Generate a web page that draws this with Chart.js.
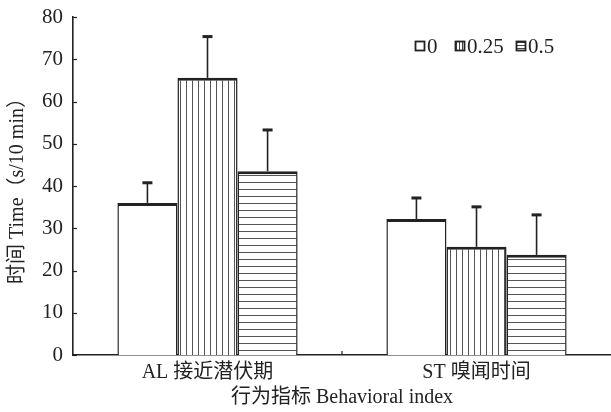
<!DOCTYPE html>
<html>
<head>
<meta charset="utf-8">
<script src="https://cdn.jsdelivr.net/npm/chart.js@4.4.1/dist/chart.umd.min.js"></script>
<style>
  html, body { margin: 0; padding: 0; background: #fff; }
  #wrap { width: 611px; height: 412px; }
</style>
</head>
<body>
<div id="wrap"><canvas id="c" width="611" height="412"></canvas></div>
<script>
// data
const categories = ['AL 接近潜伏期', 'ST 嗅闻时间'];
const seriesNames = ['0', '0.25', '0.5'];
const values0 = [36, 32.2];
const values025 = [65.6, 25.6];
const values05 = [43.5, 23.7];
const err0 = [5, 5.2];
const err025 = [10, 9.7];
const err05 = [10, 9.7];
const yTicks = [0, 10, 20, 30, 40, 50, 60, 70, 80];

const INK = '#222';
const SERIF = "'Liberation Serif', 'DejaVu Serif', 'Noto Sans CJK SC', serif";

function makePattern(kind) {
    const size = kind === 'v' ? 6 : 7;
    const p = document.createElement('canvas');
    p.width = size; p.height = size;
    const g = p.getContext('2d');
    g.fillStyle = '#fff';
    g.fillRect(0, 0, size, size);
    if (kind !== 'none') {
        g.fillStyle = '#555';
        if (kind === 'v') g.fillRect(0, 0, 1, size);
        else g.fillRect(0, 0, size, 1);
    }
    return document.getElementById('c').getContext('2d').createPattern(p, 'repeat');
}

function makeSmallPattern(kind) {
    const p = document.createElement('canvas');
    p.width = 3; p.height = 3;
    const g = p.getContext('2d');
    g.fillStyle = '#fff';
    g.fillRect(0, 0, 3, 3);
    g.fillStyle = '#444';
    if (kind === 'v') g.fillRect(0, 0, 1, 3);
    else g.fillRect(0, 0, 3, 1);
    return document.getElementById('c').getContext('2d').createPattern(p, 'repeat');
}

const fills = [makePattern('none'), makePattern('v'), makePattern('h')];
const legendFills = ['#fff', makeSmallPattern('v'), makeSmallPattern('h')];
const errs = [err0, err025, err05];

// error bars (upper only), drawn through the y scale
const errorBars = {
    id: 'errorBars',
    afterDatasetsDraw(chart) {
        const ctx = chart.ctx;
        const y = chart.scales.y;
        ctx.save();
        ctx.strokeStyle = INK;
        chart.data.datasets.forEach((ds, i) => {
            const meta = chart.getDatasetMeta(i);
            meta.data.forEach((bar, j) => {
                const top = y.getPixelForValue(ds.data[j] + errs[i][j]);
                ctx.lineWidth = 1.6;
                ctx.beginPath();
                ctx.moveTo(bar.x, bar.y);
                ctx.lineTo(bar.x, top);
                ctx.stroke();
                ctx.lineWidth = 3;
                ctx.beginPath();
                ctx.moveTo(bar.x - 5, top + 1);
                ctx.lineTo(bar.x + 5, top + 1);
                ctx.stroke();
            });
        });
        ctx.restore();
    }
};

// inward tick marks and the legend in the top right
const extras = {
    id: 'extras',
    afterDraw(chart) {
        const ctx = chart.ctx;
        const area = chart.chartArea;
        const y = chart.scales.y;
        ctx.save();
        ctx.strokeStyle = INK;
        ctx.lineWidth = 1.2;
        yTicks.forEach(v => {
            const py = Math.round(y.getPixelForValue(v)) + 0.5;
            ctx.beginPath();
            ctx.moveTo(area.left, py);
            ctx.lineTo(area.left + 4, py);
            ctx.stroke();
        });
        const mid = (chart.scales.x.getPixelForValue(0) + chart.scales.x.getPixelForValue(1)) / 2;
        ctx.beginPath();
        ctx.moveTo(mid, area.bottom);
        ctx.lineTo(mid, area.bottom - 4);
        ctx.stroke();

        // legend
        const items = [[415, 427], [455, 467], [516, 528]];
        ctx.font = '21px ' + SERIF;
        ctx.textBaseline = 'middle';
        items.forEach((it, i) => {
            ctx.fillStyle = legendFills[i];
            ctx.fillRect(it[0], 41, 10, 10);
            ctx.lineWidth = 1.8;
            ctx.strokeStyle = INK;
            ctx.strokeRect(it[0] + 0.5, 41.5, 9, 9);
            ctx.fillStyle = INK;
            ctx.fillText(seriesNames[i], it[1], 47);
        });
        ctx.restore();
    }
};

const datasets = [values0, values025, values05].map((vals, i) => ({
    label: seriesNames[i],
    data: vals,
    backgroundColor: fills[i],
    borderColor: INK,
    borderWidth: {top: 3, left: 1.5, right: 1.5, bottom: 0},
    borderSkipped: false,
    categoryPercentage: 0.67,
    barPercentage: 1
}));

new Chart(document.getElementById('c'), {
    type: 'bar',
    data: {labels: categories, datasets: datasets},
    plugins: [errorBars, extras],
    options: {
        responsive: false,
        animation: false,
        layout: {padding: {top: 17, right: 0, left: 6, bottom: 2}},
        plugins: {legend: {display: false}, tooltip: {enabled: false}},
        scales: {
            x: {
                afterFit(scale) { scale.height = 55; },
                grid: {display: false, drawTicks: false},
                border: {color: INK, width: 1.6},
                ticks: {color: INK, font: {family: SERIF, size: 20}, padding: 6},
                title: {display: true, text: '行为指标 Behavioral index', color: INK,
                    font: {family: SERIF, size: 20}, padding: {top: 0, bottom: 0}}
            },
            y: {
                min: 0, max: 80,
                afterFit(scale) { scale.width = 67; scale.paddingTop = 0; scale.paddingBottom = 0; },
                grid: {display: false, drawTicks: false},
                border: {color: INK, width: 1.6},
                ticks: {stepSize: 10, color: INK, font: {family: SERIF, size: 21}, padding: 10},
                title: {display: true, text: '时间 Time（s/10 min）', color: INK,
                    font: {family: SERIF, size: 20}, padding: {top: 0, bottom: 0}}
            }
        }
    }
});
</script>
</body>
</html>
